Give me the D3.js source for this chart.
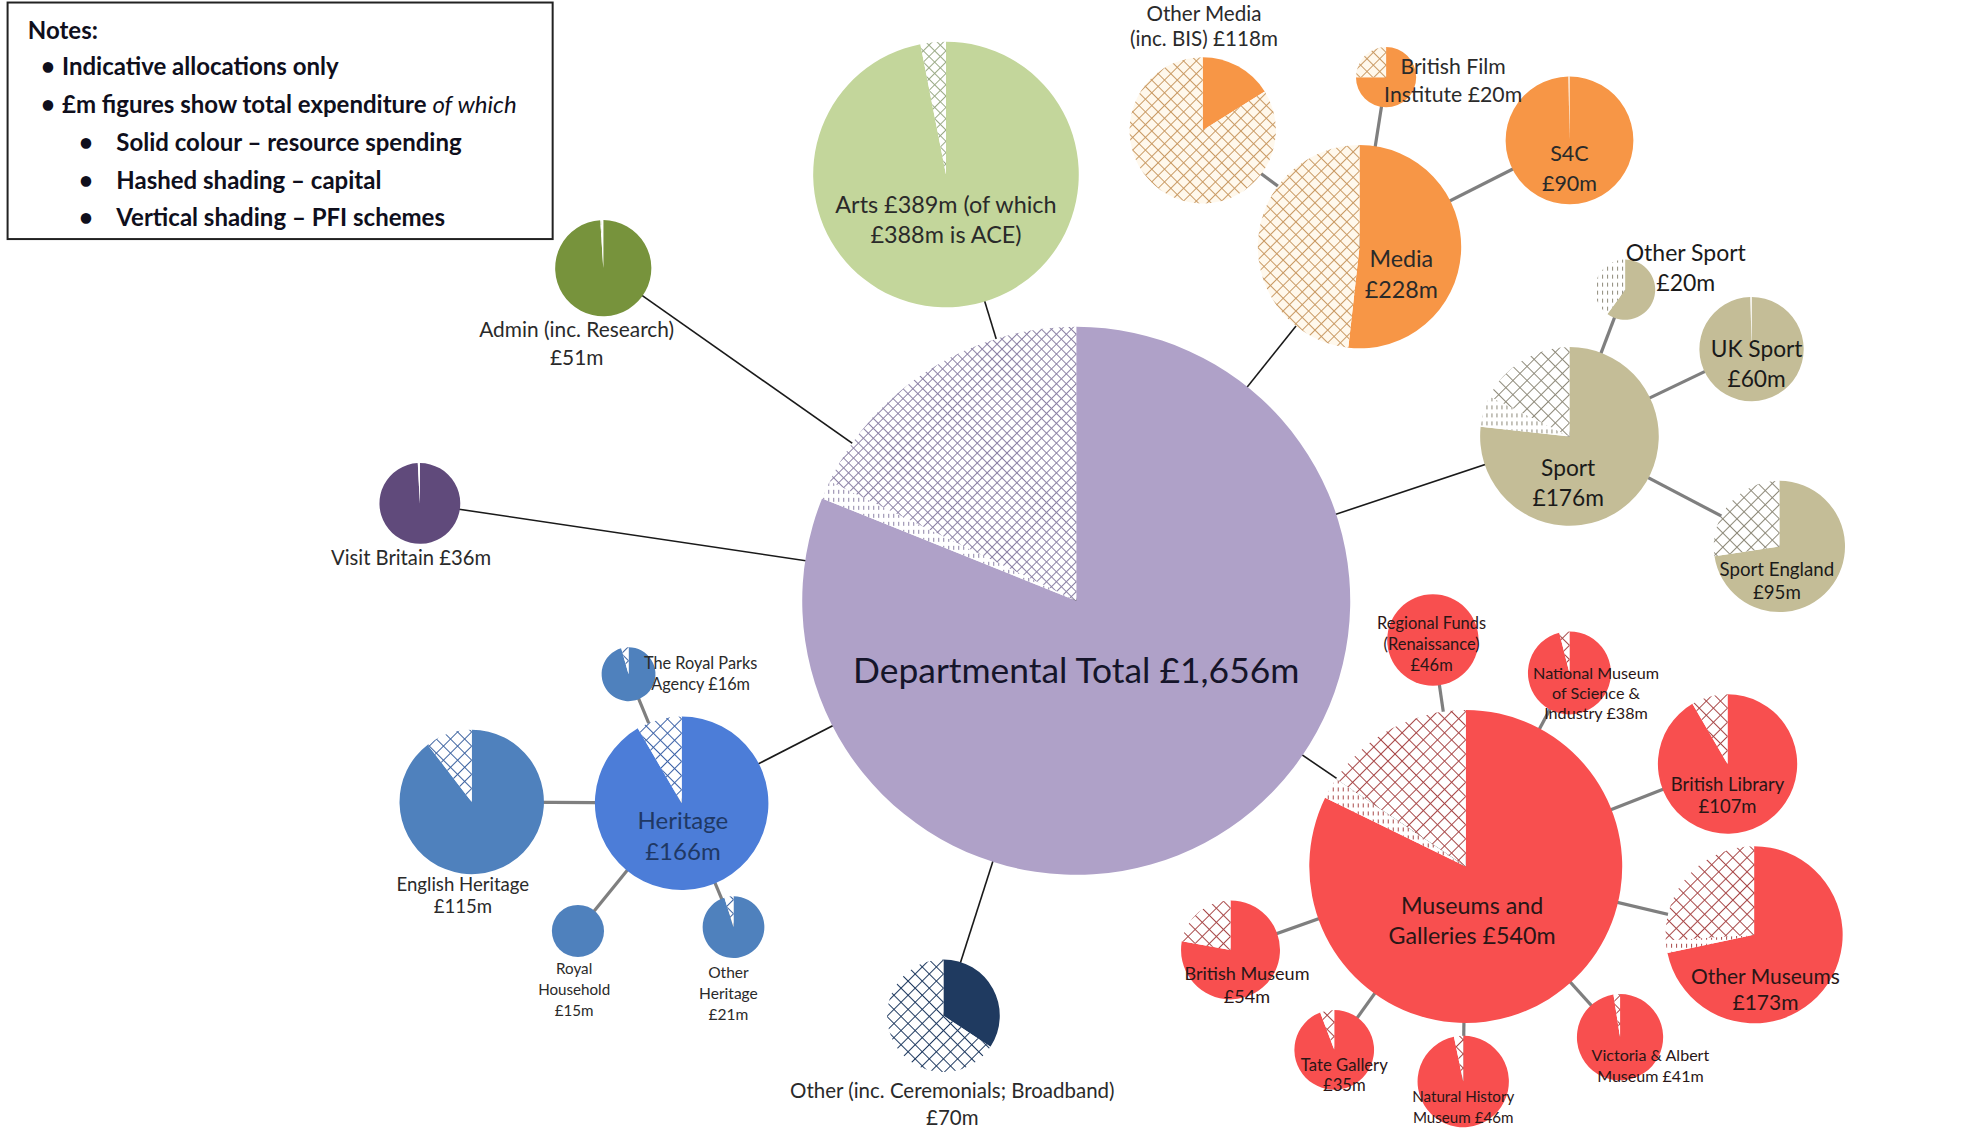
<!DOCTYPE html>
<html>
<head>
<meta charset="utf-8">
<script src="https://cdn.jsdelivr.net/npm/d3@7"></script>
<style>
  body { margin: 0; background: #fff; }
  svg { display: block; font-family: Lato, "Open Sans", sans-serif; }
</style>
</head>
<body>
<svg id="chart"></svg>
<script>
// ---- data (£m) ----
const names = ['Departmental Total', 'Arts', 'Admin', 'Visit Britain', 'Heritage', 'English Heritage',
  'The Royal Parks Agency', 'Royal Household', 'Other Heritage', 'Other', 'Media', 'Other Media',
  'British Film Institute', 'S4C', 'Sport', 'Other Sport', 'UK Sport', 'Sport England',
  'Museums and Galleries', 'Regional Funds', 'NMSI', 'British Library', 'Other Museums',
  'Victoria & Albert Museum', 'Natural History Museum', 'Tate Gallery', 'British Museum'];
const parentOf = [-1, 0, 0, 0, 0, 4, 4, 4, 4, 0, 0, 10, 10, 10, 0, 14, 14, 14, 0, 18, 18, 18, 18, 18, 18, 18, 18];
const totals   = [1656, 389, 51, 36, 166, 115, 16, 15, 21, 70, 228, 118, 20, 90, 176, 20, 60, 95, 540, 46, 38, 107, 173, 41, 46, 35, 54];
const resource = [1343, 377, 50.5, 35.7, 152, 103, 15.3, 15, 20, 24, 118, 19, 15, 89.8, 135, 12, 59.8, 69, 444, 46, 36.5, 98, 124, 40, 44.5, 33, 42];
const pfi      = [18, 0, 0.5, 0.3, 0, 0, 0, 0, 0, 0, 0, 0, 0, 0.2, 10, 8, 0.2, 0, 12, 0, 0, 0, 4, 0, 0, 0, 0];
const capital  = [295, 12, 0, 0, 14, 12, 0.7, 0, 1, 46, 110, 99, 5, 0, 31, 0, 0, 26, 84, 0, 1.5, 9, 45, 1, 1.5, 2, 12];
const labels = [
  ['Departmental Total £1,656m'],
  ['Arts £389m  (of which', '£388m  is ACE)'],
  ['Admin (inc. Research)', '£51m'],
  ['Visit Britain £36m'],
  ['Heritage', '£166m'],
  ['English Heritage', '£115m'],
  ['The Royal Parks', 'Agency  £16m'],
  ['Royal', 'Household', '£15m'],
  ['Other', 'Heritage', '£21m'],
  ['Other (inc. Ceremonials; Broadband)', '£70m'],
  ['Media', '£228m'],
  ['Other Media', '(inc. BIS) £118m'],
  ['British Film', 'Institute £20m'],
  ['S4C', '£90m'],
  ['Sport', '£176m'],
  ['Other Sport', '£20m'],
  ['UK Sport', '£60m'],
  ['Sport England', '£95m'],
  ['Museums  and', 'Galleries £540m'],
  ['Regional Funds', '(Renaissance)', '£46m'],
  ['National Museum', 'of Science &', 'Industry £38m'],
  ['British Library', '£107m'],
  ['Other Museums', '£173m'],
  ['Victoria & Albert', 'Museum £41m'],
  ['Natural History', 'Museum £46m'],
  ['Tate Gallery', '£35m'],
  ['British Museum', '£54m']
];
const notes = ['Indicative allocations  only', '£m figures show total expenditure ', 'Solid colour – resource spending',
  'Hashed shading – capital', 'Vertical shading – PFI schemes'];

// ---- layout, in design units of a 1568 x 906 sheet ----
const posX = [851, 748, 477, 332, 539, 373, 497, 457, 580, 746, 1075, 951, 1096, 1241, 1241, 1285, 1385, 1407, 1159, 1133, 1241, 1366, 1387, 1281, 1157, 1055, 973];
const posY = [475, 138, 212, 398, 635, 634, 533, 736, 733, 803, 195, 103, 61, 111, 345, 229, 276, 432, 685, 506, 532, 604, 739, 820, 855, 830, 751];
const labelX = [851, 748, 456, 325, 540, 366, 554, 454, 576, 753, 1108, 952, 1149, 1241, 1240, 1333, 1389, 1405, 1164, 1132, 1262, 1366, 1396, 1305, 1157, 1063, 986];
const labelY = [530, 162, 261, 441, 649, 699, 524, 766, 769, 862, 205, 11, 53, 121, 370, 200, 276, 450, 716, 493, 532, 620, 772, 834, 867, 842, 770];
const labelGap = [0, 24, 22, 0, 24, 18, 17, 16.5, 16.5, 22, 24, 20, 22, 24, 24, 24, 24, 18, 24, 16.5, 16, 18, 21, 17, 17, 16, 18];
const labelSize = [28, 18.5, 16.5, 16, 19, 14.7, 12.9, 12, 12.3, 16.2, 18.4, 16.3, 16.8, 17, 18, 18.2, 18, 14.8, 18.4, 13, 12.8, 14.6, 16.6, 12.7, 12, 13.2, 14.3];
const groupOf = ['main', 'arts', 'admin', 'visit', 'heritage', 'herChild', 'herChild', 'herChild', 'herChild', 'other',
  'media', 'media', 'media', 'media', 'sport', 'sport', 'sport', 'sport',
  'museums', 'museums', 'museums', 'museums', 'museums', 'museums', 'museums', 'museums', 'museums'];
const palette = {
  main:     { fill: '#AFA1C8', ink: '#8C82A6', paper: '#ffffff', grid: 7, text: '#15152a' },
  arts:     { fill: '#C3D69B', ink: '#9AAA86', paper: '#ffffff', grid: 8, text: '#2a2a2a' },
  admin:    { fill: '#77933C', ink: '#c8d8a8', paper: '#ffffff', grid: 8, text: '#2a2a2a' },
  visit:    { fill: '#604A7B', ink: '#b0a0c8', paper: '#ffffff', grid: 8, text: '#2a2a2a' },
  heritage: { fill: '#4C7DD8', ink: '#3d63a8', paper: '#ffffff', grid: 10, text: '#1F3864' },
  herChild: { fill: '#4F81BD', ink: '#3d63a0', paper: '#ffffff', grid: 10, text: '#2a2a2a' },
  other:    { fill: '#1F3A60', ink: '#1F3A60', paper: '#ffffff', grid: 10, text: '#2a2a2a' },
  media:    { fill: '#F79646', ink: '#c99a64', paper: '#fff8ec', grid: 9, text: '#2a2a2a' },
  sport:    { fill: '#C4BD97', ink: '#8e8a7a', paper: '#ffffff', grid: 10, text: '#1a1a1a' },
  museums:  { fill: '#F84F4F', ink: '#a84848', paper: '#ffffff', grid: 10, text: '#2a1616' }
};

// ---- scales ----
const W = 1983, H = 1146;
const x = d3.scaleLinear().domain([0, 1568]).range([0, W]);
const y = d3.scaleLinear().domain([0, 906]).range([0, H]);
const k = W / 1568;
const r = d3.scaleSqrt().domain([0, d3.max(totals)]).range([0, 274]);

const svg = d3.select('#chart').attr('width', W).attr('height', H);
svg.append('rect').attr('width', W).attr('height', H).attr('fill', '#fff');

// patterns: crosshatch for capital, vertical dashes for PFI
const defs = svg.append('defs');
Object.entries(palette).forEach(([g, p]) => {
  const h = defs.append('pattern').attr('id', 'hatch-' + g)
    .attr('patternUnits', 'userSpaceOnUse')
    .attr('width', p.grid).attr('height', p.grid)
    .attr('patternTransform', 'rotate(45)');
  h.append('rect').attr('width', p.grid).attr('height', p.grid).attr('fill', p.paper);
  h.append('path').attr('d', `M0,0.5H${p.grid}M0.5,0V${p.grid}`)
    .attr('stroke', p.ink).attr('stroke-width', 1).attr('fill', 'none');
  const v = defs.append('pattern').attr('id', 'pfi-' + g)
    .attr('patternUnits', 'userSpaceOnUse').attr('width', 5).attr('height', 8);
  v.append('rect').attr('width', 5).attr('height', 8).attr('fill', p.paper);
  v.append('line').attr('x1', 2.5).attr('x2', 2.5).attr('y1', 1).attr('y2', 5)
    .attr('stroke', p.ink).attr('stroke-width', 1);
});

const nodes = names.map((n, i) => ({
  i, name: n, parent: parentOf[i], total: totals[i],
  parts: [resource[i], pfi[i], capital[i]],
  cx: x(posX[i]), cy: y(posY[i]), group: groupOf[i]
}));

// connectors
svg.append('g').selectAll('line')
  .data(nodes.filter(d => d.parent >= 0))
  .join('line')
  .attr('x1', d => nodes[d.parent].cx).attr('y1', d => nodes[d.parent].cy)
  .attr('x2', d => d.cx).attr('y2', d => d.cy)
  .attr('stroke', d => d.parent === 0 ? '#1a1a1a' : '#7f7f7f')
  .attr('stroke-width', d => d.parent === 0 ? 1.6 : 3.2);

// pies
const pie = d3.pie().sort(null).value(v => v);
const kinds = ['res', 'pfi', 'cap'];
const pies = svg.append('g').selectAll('g')
  .data(nodes).join('g')
  .attr('transform', d => `translate(${d.cx},${d.cy})`);
pies.selectAll('path')
  .data(d => pie(d.parts).map((a, j) => ({ a, j, d })))
  .join('path')
  .attr('d', o => d3.arc().innerRadius(0).outerRadius(r(o.d.total))(o.a))
  .attr('fill', o => {
    const g = o.d.group;
    if (kinds[o.j] === 'res') return palette[g].fill;
    if (kinds[o.j] === 'pfi') return `url(#pfi-${g})`;
    return `url(#hatch-${g})`;
  });

// labels
const lab = svg.append('g').selectAll('text')
  .data(nodes).join('text')
  .attr('text-anchor', 'middle')
  .attr('font-size', d => labelSize[d.i] * k)
  .attr('fill', d => palette[d.group].text);
lab.selectAll('tspan')
  .data(d => labels[d.i].map((t, j) => ({ t, j, d })))
  .join('tspan')
  .attr('x', o => x(labelX[o.d.i]))
  .attr('y', o => y(labelY[o.d.i] + o.j * labelGap[o.d.i]))
  .attr('dy', '0.35em')
  .text(o => o.t);

// notes box
const nb = svg.append('g').attr('font-size', 24).attr('fill', '#0f0f1c');
nb.append('rect').attr('x', x(6)).attr('y', y(2)).attr('width', x(437) - x(6)).attr('height', y(189) - y(2))
  .attr('fill', '#fff').attr('stroke', '#222').attr('stroke-width', 2);
nb.append('text').attr('x', x(22)).attr('y', y(24)).attr('dy', '0.35em').attr('font-weight', 'bold').text('Notes:');
const noteRows = [53, 83, 113, 143, 172];
notes.forEach((t, j) => {
  const sub = j >= 2;
  nb.append('text').attr('x', x(sub ? 68 : 38)).attr('y', y(noteRows[j])).attr('dy', '0.35em')
    .attr('text-anchor', 'middle').attr('font-weight', 'bold').text('•');
  const tx = nb.append('text').attr('x', x(sub ? 92 : 49)).attr('y', y(noteRows[j])).attr('dy', '0.35em')
    .attr('font-weight', 'bold').text(t);
  if (j === 1) tx.append('tspan').attr('font-style', 'italic').attr('font-weight', 'normal').text('of which');
});
</script>
</body>
</html>
